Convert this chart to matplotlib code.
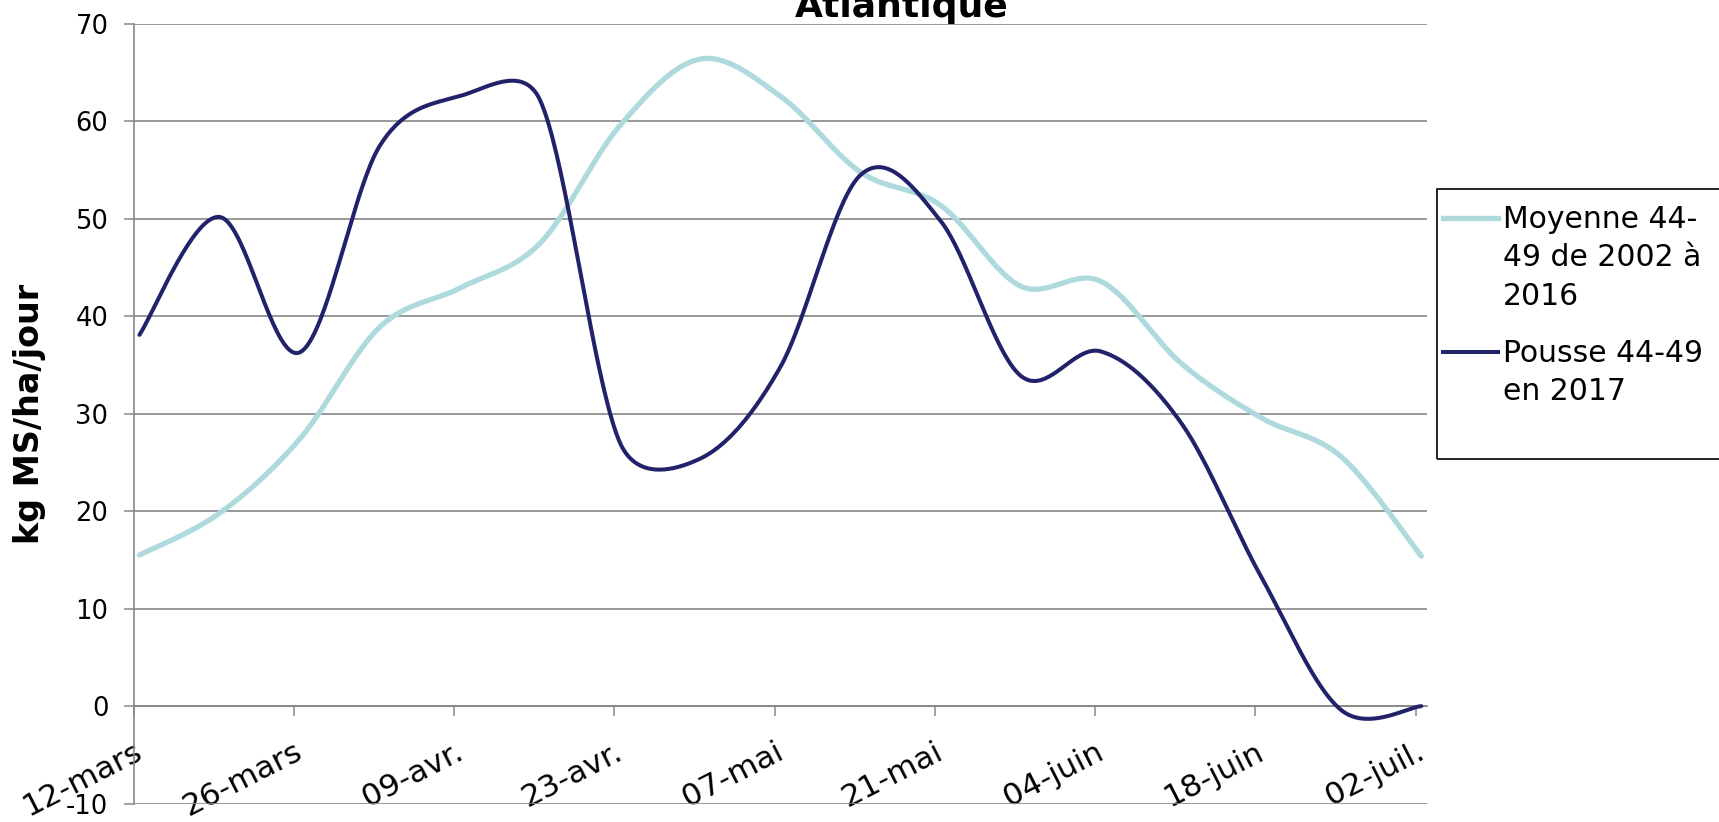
import numpy as np
import pandas as pd
import matplotlib
matplotlib.use("Agg")
import matplotlib.pyplot as plt
import matplotlib.dates as mdates
from matplotlib.lines import Line2D
from matplotlib.patches import Rectangle

plt.rcParams['font.family'] = ['DejaVu Sans']
plt.rcParams['axes.unicode_minus'] = False

# weekly readings, 12 March -> 2 July 2017
dates = pd.date_range('2017-03-12', periods=17, freq='7D')
moyenne = [15.5, 19.8, 27.4, 38.9, 42.9, 47.5, 59.6, 66.4, 62.6, 54.8,
           51.4, 43.1, 43.6, 35.2, 29.6, 25.6, 15.4]
pousse_2017 = [38.1, 50.2, 36.3, 57.5, 62.6, 62.2, 27.0, 25.4, 34.8, 54.5,
               49.8, 33.9, 36.4, 29.1, 13.3, -0.4, 0.0]

tick_dates = pd.date_range('2017-03-12', periods=9, freq='14D')
tick_labels = ['12-mars', '26-mars', '09-avr.', '23-avr.', '07-mai',
               '21-mai', '04-juin', '18-juin', '02-juil.']

legend_labels = [['Moyenne 44-', '49 de 2002 à', '2016'],
                 ['Pousse 44-49', 'en 2017']]

LIGHT = '#aedadd'
DARK = '#22226b'
GRID = '#878787'


# Excel like smoothed line: bezier through the points, control arms of
# 1/6 of the neighbour chord, capped at half the segment (in pixels)
def smooth(ax, x, y, n=40):
    P = ax.transData.transform(np.column_stack([x, y]))
    m = len(P)
    t = np.linspace(0, 1, n)[:, None]
    out = []
    for i in range(m - 1):
        p0 = P[i - 1] if i > 0 else P[i]
        p1, p2 = P[i], P[i + 1]
        p3 = P[i + 2] if i + 2 < m else P[i + 1]
        d12 = np.hypot(*(p2 - p1))
        d02 = np.hypot(*(p2 - p0))
        d13 = np.hypot(*(p3 - p1))
        f = 1 / 6 if d02 / 6 < d12 / 2 else d12 / d02 / 2
        g = 1 / 6 if d13 / 6 < d12 / 2 else d12 / d13 / 2
        c1 = p1 + (p2 - p0) * f
        c2 = p2 - (p3 - p1) * g
        seg = ((1 - t) ** 3 * p1 + 3 * (1 - t) ** 2 * t * c1
               + 3 * (1 - t) * t ** 2 * c2 + t ** 3 * p2)
        out.append(seg if i == 0 else seg[1:])
    out = ax.transData.inverted().transform(np.vstack(out))
    return out[:, 0], out[:, 1]


W, H = 1719, 822
fig = plt.figure(figsize=(W / 100, H / 100), dpi=100)
ax = fig.add_axes([133.7 / W, 1 - 803.6 / H, (1427 - 133.7) / W, (803.6 - 24) / H])

# axis crosses at 0 (set before the tick labels: it resets the ticks)
ax.spines['bottom'].set_position(('data', 0))
for s in ['top', 'right']:
    ax.spines[s].set_visible(False)
for s in ['bottom', 'left']:
    ax.spines[s].set_color(GRID)
    ax.spines[s].set_linewidth(1.2)

x0 = mdates.date2num(dates[0])
ax.set_xlim(x0, x0 + 113)
ax.set_ylim(-10, 70)

# points sit in the middle of their day on the date axis
xnum = mdates.date2num(dates) + 0.5
sx, sy = smooth(ax, xnum, moyenne)
ax.plot(sx, sy, color=LIGHT, lw=3.8, solid_capstyle='round', zorder=3)
sx, sy = smooth(ax, xnum, pousse_2017)
ax.plot(sx, sy, color=DARK, lw=2.9, solid_capstyle='round', zorder=4)

ax.set_yticks(range(-10, 80, 10))
ax.set_xticks(mdates.date2num(tick_dates))
ax.set_xticklabels(tick_labels, rotation=27, ha='right', va='top',
                   rotation_mode='anchor', fontsize=22.5)
ax.tick_params(axis='y', labelsize=18.5, length=7.2, width=1.1, color=GRID, pad=11)
ax.tick_params(axis='x', length=7.2, width=1.1, color=GRID, pad=15)

ax.yaxis.grid(True, color=GRID, lw=1.2)
ax.set_axisbelow(True)

ax.set_ylabel('kg MS/ha/jour', fontsize=24, fontweight='bold', va='center')
ax.yaxis.set_label_coords((30 - 133.7) / (1427 - 133.7), 0.5)

fig.text(902 / W, 1 - 17 / H, 'Atlantique', fontsize=26, fontweight='bold',
         ha='center', va='baseline')

# legend box, cut by the right edge like the original
fig.patches.append(Rectangle((1436.7 / W, 1 - 459.3 / H), 0.2, 270 / H,
                             transform=fig.transFigure, fill=False,
                             edgecolor='black', lw=1.2))
handle_y = [217.7, 352.3]
baselines = [[228, 266.5, 305], [361.7, 399.5]]
for col, hy, lines, bls in zip([LIGHT, DARK], handle_y, legend_labels, baselines):
    fig.lines.append(Line2D([1443 / W, 1498 / W], [1 - hy / H] * 2, color=col,
                            lw=3.8 if col == LIGHT else 2.9,
                            transform=fig.transFigure))
    for txt, b in zip(lines, bls):
        fig.text(1503 / W, 1 - b / H, txt, fontsize=21.5, va='baseline')

fig.savefig('out.png', dpi=100)
